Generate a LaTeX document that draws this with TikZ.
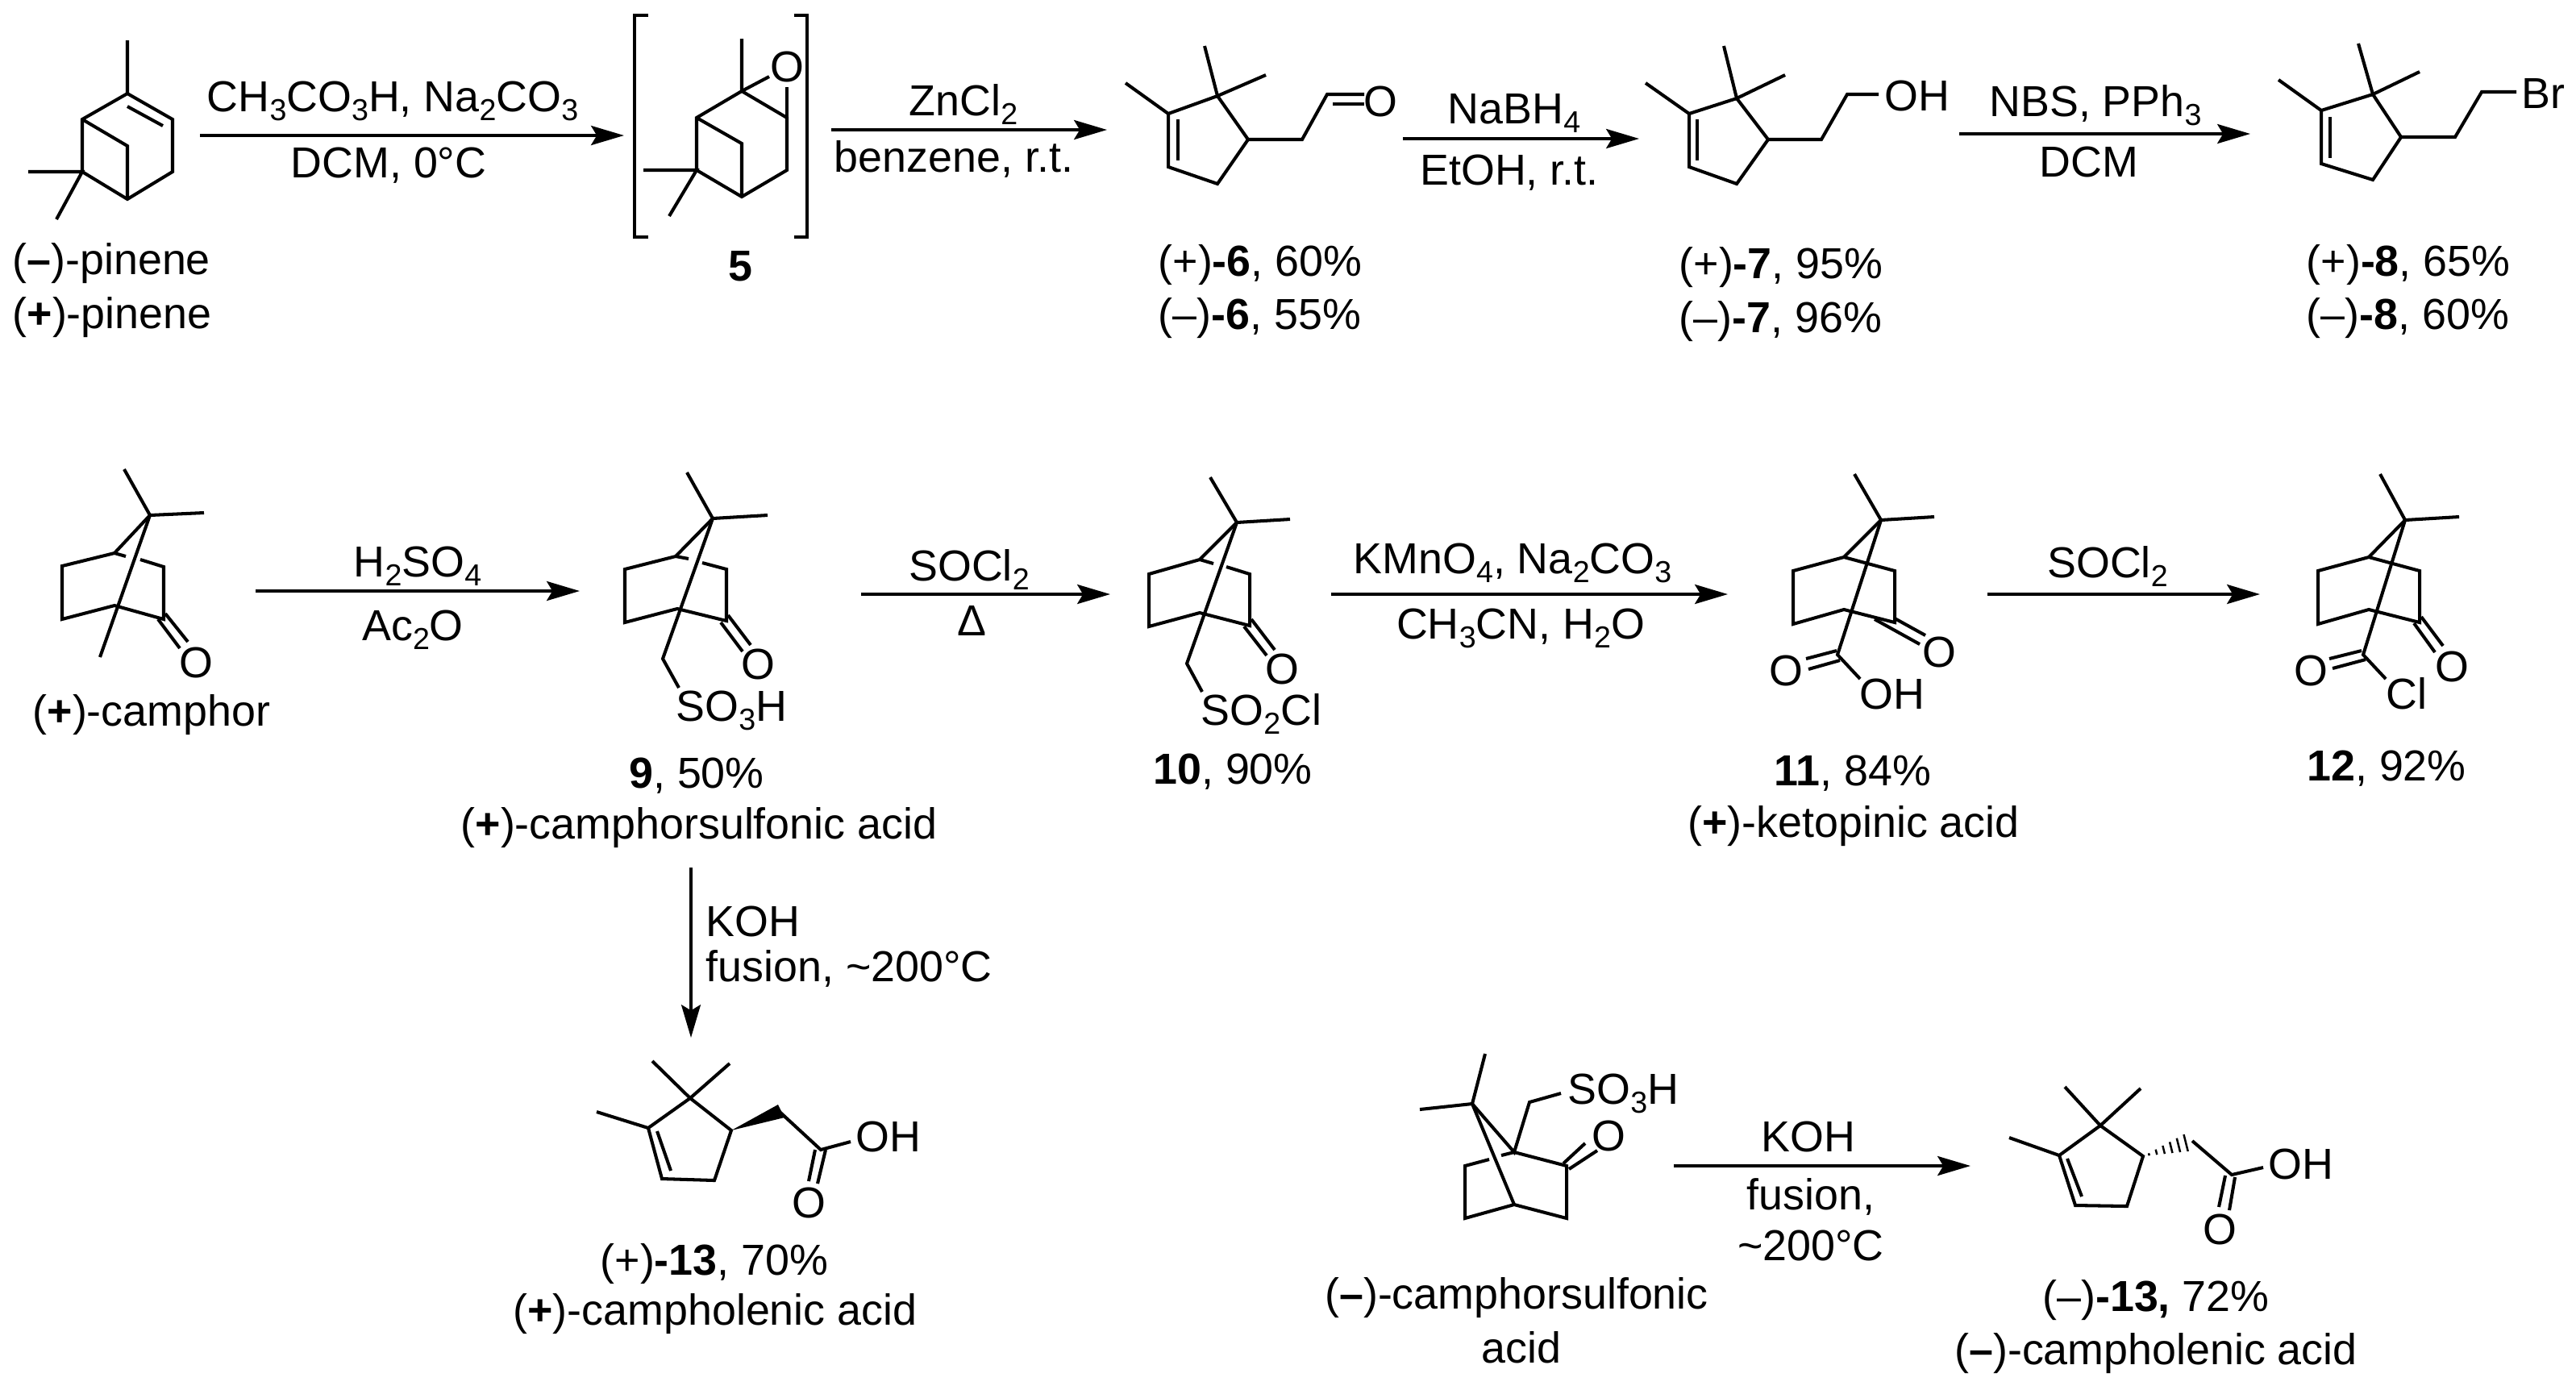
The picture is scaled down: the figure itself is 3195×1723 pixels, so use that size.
\documentclass[tikz,border=0pt]{standalone}
\usepackage{fontspec}
\setmainfont{Liberation Sans}
\usepackage{tikz}
\usetikzlibrary{arrows.meta,calc}

\newcommand{\lo}[1]{\raisebox{-3.4pt}{\fontsize{10.7}{12}\selectfont #1}}

\begin{document}
\begin{tikzpicture}[x=0.01cm,y=-0.01cm,
  every node/.style={inner sep=0pt,font=\fontsize{15.3}{18}\selectfont},
  t/.style={anchor=base},
  tl/.style={anchor=base west},
  b/.style={line width=1.15pt},
  rx/.style={line width=1.25pt,-{Stealth[length=11.6pt,width=6.8pt,inset=2pt]}}]
  \useasboundingbox (0,0) rectangle (3195,1723);

  % pinene
  \draw[b] (158,50) -- (158,116) -- (214,148) -- (214,213) -- (158,247) -- (102,213) -- (102,148) -- (158,116);
  \draw[b] (158,132) -- (202,156);
  \draw[b] (102,148) -- (158,181) -- (158,247);
  \draw[b] (35,213) -- (102,213) -- (70,272);
  \node[tl] (pinm) at (15,340) {(\textbf{–})-pinene};
  \node[tl] (pinp) at (15,407) {(\textbf{+})-pinene};

  \coordinate (r1a) at (248,168);
  \coordinate (r1b) at (774,168);
  \draw[rx] (r1a) -- (r1b);
  \node[t] (r1t) at (487,138) {CH\lo{3}CO\lo{3}H, Na\lo{2}CO\lo{3}};
  \node[t] (r1d) at (482,220) {DCM, 0°C};

  % epoxide 5
  \draw[b] (804,19) -- (787,19) -- (787,294) -- (804,294);
  \draw[b] (985,19) -- (1001,19) -- (1001,294) -- (985,294);
  \draw[b] (920,48) -- (920,113) -- (976,146) -- (976,211) -- (920,244) -- (864,211) -- (864,146) -- (920,113);
  \draw[b] (864,146) -- (920,178) -- (920,244);
  \draw[b] (798,211) -- (864,211) -- (830,268);
  \draw[b] (920,113) -- (954,95);
  \draw[b] (976,146) -- (976,108);
  \node[t] (oxo) at (976,101) {O};
  \node[t] (lab5) at (918,348) {\textbf{5}};

  \coordinate (r2a) at (1031,161);
  \coordinate (r2b) at (1373,161);
  \draw[rx] (r2a) -- (r2b);
  \node[t] (r2t) at (1195,143) {ZnCl\lo{2}};
  \node[t] (r2d) at (1183,213) {benzene, r.t.};

  % aldehyde 6
  \draw[b] (1449,141) -- (1510,119) -- (1548,173) -- (1510,228) -- (1449,207) -- cycle;
  \draw[b] (1461,148) -- (1461,199);
  \draw[b] (1396,103) -- (1449,141);
  \draw[b] (1494,57) -- (1510,119) -- (1570,93);
  \draw[b] (1548,173) -- (1615,173) -- (1646,117) -- (1692,117);
  \draw[b] (1653,129) -- (1692,129);
  \node[t] (o6) at (1712,144) {O};
  \node[tl] (lab6p) at (1436,342) {(+)\textbf{-6}, 60\%};
  \node[tl] (lab6m) at (1436,408) {(–)\textbf{-6}, 55\%};

  \coordinate (r3a) at (1740,172);
  \coordinate (r3b) at (2033,172);
  \draw[rx] (r3a) -- (r3b);
  \node[t] (r3t) at (1878,153) {NaBH\lo{4}};
  \node[t] (r3d) at (1872,229) {EtOH, r.t.};

  % alcohol 7
  \draw[b] (2095,141) -- (2154,122) -- (2193,173) -- (2154,228) -- (2095,207) -- cycle;
  \draw[b] (2105,148) -- (2105,199);
  \draw[b] (2041,103) -- (2095,141);
  \draw[b] (2138,57) -- (2154,122) -- (2214,93);
  \draw[b] (2193,173) -- (2259,173) -- (2291,117) -- (2330,117);
  \node[tl] (oh7) at (2337,137) {OH};
  \node[tl] (lab7p) at (2082,345) {(+)\textbf{-7}, 95\%};
  \node[tl] (lab7m) at (2082,412) {(–)\textbf{-7}, 96\%};

  \coordinate (r4a) at (2430,166);
  \coordinate (r4b) at (2791,166);
  \draw[rx] (r4a) -- (r4b);
  \node[t] (r4t) at (2599,144) {NBS, PPh\lo{3}};
  \node[t] (r4d) at (2591,219) {DCM};

  % bromide 8
  \draw[b] (2879,137) -- (2943,117) -- (2978,170) -- (2943,223) -- (2879,203) -- cycle;
  \draw[b] (2890,145) -- (2890,196);
  \draw[b] (2826,99) -- (2879,137);
  \draw[b] (2925,54) -- (2943,117) -- (3001,89);
  \draw[b] (2978,170) -- (3045,170) -- (3078,114) -- (3121,114);
  \node[tl] (br8) at (3127,134) {Br};
  \node[tl] (lab8p) at (2860,342) {(+)\textbf{-8}, 65\%};
  \node[tl] (lab8m) at (2860,408) {(–)\textbf{-8}, 60\%};

  % camphor
  \draw[b] (154,582) -- (186,639) -- (253,636);
  \draw[b] (186,639) -- (142,686) -- (77,702) -- (77,768) -- (142,751) -- (203,768) -- (203,703) -- (174,694);
  \draw[b] (142,686) -- (156,690);
  \draw[b] (186,639) -- (124,815);
  \draw[b] (196,768) -- (223,804);
  \draw[b] (205,761) -- (233,796);
  \node[t] (o0) at (243,840) {O};
  \node[tl] (labc) at (40,900) {(\textbf{+})-camphor};

  \coordinate (r5a) at (317,733);
  \coordinate (r5b) at (719,733);
  \draw[rx] (r5a) -- (r5b);
  \node[t] (r5t) at (518,715) {H\lo{2}SO\lo{4}};
  \node[t] (r5d) at (512,794) {Ac\lo{2}O};

  % sulfonic acid 9
  \draw[b] (852,586) -- (884,643) -- (952,639);
  \draw[b] (884,643) -- (838,690) -- (775,706) -- (775,772) -- (840,755) -- (901,770) -- (901,706) -- (871,698);
  \draw[b] (838,690) -- (854,693);
  \draw[b] (884,643) -- (822,817) -- (842,853);
  \draw[b] (894,772) -- (921,808);
  \draw[b] (903,763) -- (931,800);
  \node[t] (o9) at (940,842) {O};
  \node[tl] (so9) at (838,894) {SO\lo{3}H};
  \node[t] (lab9) at (864,977) {\textbf{9}, 50\%};
  \node[t] (name9) at (867,1040) {(\textbf{+})-camphorsulfonic acid};

  \coordinate (r6a) at (1068,737);
  \coordinate (r6b) at (1377,737);
  \draw[rx] (r6a) -- (r6b);
  \node[t] (r6t) at (1202,720) {SOCl\lo{2}};
  \node[t] (r6d) at (1205,788) {Δ};

  % sulfonyl chloride 10
  \draw[b] (1501,592) -- (1534,648) -- (1600,644);
  \draw[b] (1534,648) -- (1488,694) -- (1425,712) -- (1425,777) -- (1488,760) -- (1550,776) -- (1550,712) -- (1521,703);
  \draw[b] (1488,694) -- (1505,699);
  \draw[b] (1534,648) -- (1472,823) -- (1491,858);
  \draw[b] (1543,777) -- (1571,813);
  \draw[b] (1552,768) -- (1581,806);
  \node[t] (o10) at (1590,848) {O};
  \node[tl] (so10) at (1489,899) {SO\lo{2}Cl};
  \node[t] (lab10) at (1529,972) {\textbf{10}, 90\%};

  \coordinate (r7a) at (1651,737);
  \coordinate (r7b) at (2143,737);
  \draw[rx] (r7a) -- (r7b);
  \node[t] (r7t) at (1876,711) {KMnO\lo{4}, Na\lo{2}CO\lo{3}};
  \node[t] (r7d) at (1886,792) {CH\lo{3}CN, H\lo{2}O};

  % ketopinic acid 11
  \draw[b] (2300,588) -- (2333,645) -- (2399,641);
  \draw[b] (2333,645) -- (2287,691) -- (2224,708) -- (2224,774) -- (2287,756) -- (2350,772) -- (2350,708) -- (2287,691);
  \draw[b] (2333,645) -- (2279,812) -- (2307,842);
  \draw[b] (2240,817) -- (2278,807);
  \draw[b] (2243,830) -- (2282,819);
  \draw[b] (2325,768) -- (2381,799);
  \draw[b] (2350,767) -- (2388,788);
  \node[t] (o11a) at (2405,827) {O};
  \node[t] (o11b) at (2215,850) {O};
  \node[tl] (oh11) at (2306,879) {OH};
  \node[t] (lab11) at (2298,974) {\textbf{11}, 84\%};
  \node[t] (name11) at (2299,1038) {(\textbf{+})-ketopinic acid};

  \coordinate (r8a) at (2465,737);
  \coordinate (r8b) at (2803,737);
  \draw[rx] (r8a) -- (r8b);
  \node[t] (r8t) at (2614,716) {SOCl\lo{2}};

  % acid chloride 12
  \draw[b] (2952,588) -- (2983,645) -- (3050,641);
  \draw[b] (2983,645) -- (2938,691) -- (2875,708) -- (2875,774) -- (2938,756) -- (3001,772) -- (3001,708) -- (2938,691);
  \draw[b] (2983,645) -- (2931,812) -- (2959,842);
  \draw[b] (2889,817) -- (2929,807);
  \draw[b] (2893,829) -- (2934,818);
  \draw[b] (2994,773) -- (3020,809);
  \draw[b] (3003,765) -- (3030,801);
  \node[t] (o12a) at (3041,845) {O};
  \node[t] (o12b) at (2866,850) {O};
  \node[tl] (cl12) at (2959,879) {Cl};
  \node[t] (lab12) at (2960,968) {\textbf{12}, 92\%};

  \coordinate (r9a) at (857,1076);
  \coordinate (r9b) at (857,1287);
  \draw[rx,line width=1pt] (r9a) -- (r9b);
  \node[tl] (r9t) at (875,1161) {KOH};
  \node[tl] (r9d) at (875,1217) {fusion, \textasciitilde200°C};

  % (+)-13
  \draw[b] (804,1399) -- (856,1362) -- (907,1402) -- (886,1464) -- (821,1462) -- cycle;
  \draw[b] (815,1403) -- (832,1452);
  \draw[b] (740,1379) -- (804,1399);
  \draw[b] (809,1316) -- (856,1362) -- (905,1319);
  \fill (907,1402) -- (965,1370) -- (973,1386) -- cycle;
  \draw[b] (967,1379) -- (1018,1426) -- (1055,1416);
  \draw[b] (1011,1426) -- (1003,1465);
  \draw[b] (1024,1426) -- (1014,1468);
  \node[tl] (oh13p) at (1061,1428) {OH};
  \node[t] (o13p) at (1003,1510) {O};
  \node[t] (lab13p) at (886,1581) {(+)\textbf{-13}, 70\%};
  \node[t] (name13p) at (887,1643) {(\textbf{+})-campholenic acid};

  % (-)-camphorsulfonic acid
  \draw[b] (1842,1307) -- (1826,1369) -- (1761,1376);
  \draw[b] (1826,1369) -- (1878,1429) -- (1897,1367) -- (1936,1356);
  \draw[b] (1826,1369) -- (1878,1494);
  \draw[b] (1847,1438) -- (1817,1446) -- (1817,1511) -- (1878,1494) -- (1943,1511) -- (1943,1446) -- (1878,1429) -- (1862,1433);
  \draw[b] (1939,1443) -- (1966,1418);
  \draw[b] (1946,1450) -- (1981,1427);
  \node[t] (o14) at (1995,1427) {O};
  \node[tl] (so14) at (1944,1369) {SO\lo{3}H};
  \node[t] (name14a) at (1881,1623) {(\textbf{–})-camphorsulfonic};
  \node[t] (name14b) at (1887,1690) {acid};

  \coordinate (r10a) at (2076,1446);
  \coordinate (r10b) at (2444,1446);
  \draw[rx] (r10a) -- (r10b);
  \node[t] (r10t) at (2243,1428) {KOH};
  \node[t] (r10d) at (2246,1500) {fusion,};
  \node[t] (r10e) at (2246,1563) {\textasciitilde200°C};

  % (-)-13
  \draw[b] (2554,1433) -- (2605,1396) -- (2658,1434) -- (2638,1496) -- (2574,1495) -- cycle;
  \draw[b] (2564,1437) -- (2582,1484);
  \draw[b] (2492,1411) -- (2554,1433);
  \draw[b] (2561,1348) -- (2605,1396) -- (2655,1350);
  \coordinate (h0) at (2658,1434);
  \coordinate (h1) at (2719,1415);
  \foreach \s in {.12,.27,.42,.57,.72,.87}
    \draw[line width=.7pt] ($(h0)!\s!(h1)+({-3*\s},{-12*\s})$) -- ($(h0)!\s!(h1)+({3*\s},{12*\s})$);
  \draw[b] (h1) -- (2768,1457) -- (2807,1448);
  \draw[b] (2760,1458) -- (2752,1497);
  \draw[b] (2772,1460) -- (2765,1501);
  \node[tl] (oh13m) at (2813,1462) {OH};
  \node[t] (o13m) at (2753,1543) {O};
  \node[t] (lab13m) at (2674,1626) {(–)\textbf{-13,} 72\%};
  \node[t] (name13m) at (2674,1692) {(\textbf{–})-campholenic acid};
\end{tikzpicture}
\end{document}
